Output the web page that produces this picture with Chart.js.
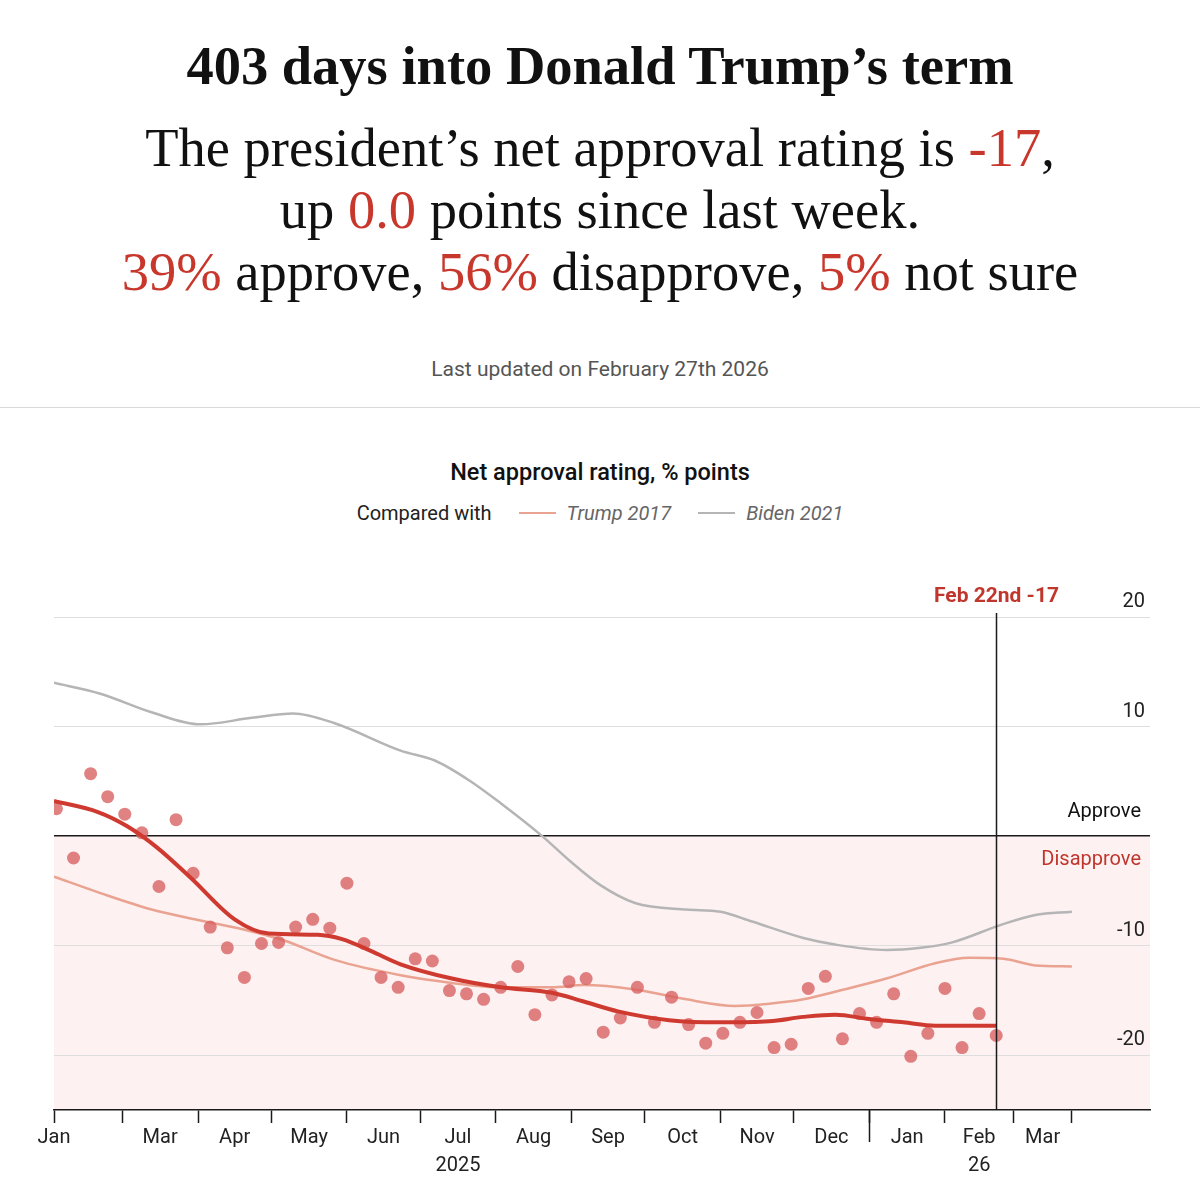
<!DOCTYPE html>
<html>
<head>
<meta charset="utf-8">
<script src="https://cdn.jsdelivr.net/npm/chart.js@4.4.1/dist/chart.umd.min.js"></script>
<style>
  html, body { margin: 0; padding: 0; background: #fff; }
  body { width: 1200px; height: 1200px; position: relative; overflow: hidden; }
  .abs { position: absolute; left: 0; width: 1200px; text-align: center; }
  .serif { font-family: "Liberation Serif", "DejaVu Serif", serif; color: #111; }
  #title { top: 35px; font-size: 54.5px; line-height: 62px; font-weight: bold; }
  #sub { top: 117px; font-size: 54.5px; line-height: 62px; }
  .red { color: #c8372c; }
  #updated { top: 355px; font-family: Roboto, sans-serif; font-size: 21px; line-height: 28px; color: #555; }
  #sep { top: 407px; height: 1px; background: #d9d9d9; }
  #ctitle { top: 458px; font-family: Roboto, sans-serif; font-size: 23.5px; line-height: 28px; font-weight: 500; color: #111; }
  #legend { top: 499px; font-family: Roboto, sans-serif; font-size: 20px; line-height: 28px; color: #222;
            display: flex; justify-content: center; align-items: center; }
  .sw { display: inline-block; width: 37px; height: 2.5px; margin-left: 27px; margin-right: 11px; }
  .lg { font-style: italic; color: #666; }
  #wrap { position: absolute; left: 0; top: 540px; width: 1200px; height: 660px; }
</style>
</head>
<body>
<div id="title" class="abs serif">403 days into Donald Trump’s term</div>
<div id="sub" class="abs serif">The president’s net approval rating is <span class="red">-17</span>,<br>up <span class="red">0.0</span> points since last week.<br><span class="red">39%</span> approve, <span class="red">56%</span> disapprove, <span class="red">5%</span> not sure</div>
<div id="updated" class="abs">Last updated on February 27th 2026</div>
<div id="sep" class="abs"></div>
<div id="ctitle" class="abs">Net approval rating, % points</div>
<div id="legend" class="abs"><span>Compared with</span><span class="sw" style="background:#eba391"></span><span class="lg">Trump 2017</span><span class="sw" style="background:#b5b5b5"></span><span class="lg">Biden 2021</span></div>
<div id="wrap"><canvas id="c" width="1200" height="660"></canvas></div>
<script>
// x values are days counted from the start of the axis
const pollDays = [1,8,15,22,29,36,43,50,57,64,71,78,85,92,99,106,113,120,127,134,141,148,155,162,169,176,183,190,197,204,211,218,225,232,239,246,253,260,267,274,281,288,295,302,309,316,323,330,337,344,351,358,365,372,379,386];
const pollNet = [2.5,-2.0,5.7,3.6,2.0,0.3,-4.6,1.5,-3.4,-8.3,-10.2,-12.9,-9.8,-9.7,-8.3,-7.6,-8.4,-4.3,-9.8,-12.9,-13.8,-11.2,-11.4,-14.1,-14.4,-14.9,-13.8,-11.9,-16.3,-14.5,-13.3,-13.0,-17.9,-16.6,-13.8,-17.0,-14.7,-17.2,-18.9,-18.0,-17.0,-16.1,-19.3,-19.0,-13.9,-12.8,-18.5,-16.2,-17.0,-14.4,-20.1,-18.0,-13.9,-19.3,-16.2,-18.2];

const trendDays = [0,18,30,42,56,74,88,108,118,130,142,163,183,204,217,231,252,273,293,307,320,334,348,361,386];
const trendNet = [3.2,2.2,0.9,-1.0,-3.8,-7.6,-8.9,-9.0,-9.4,-10.5,-11.7,-13.0,-13.8,-14.3,-15.1,-16.0,-16.8,-17.0,-16.9,-16.5,-16.3,-16.7,-17.0,-17.3,-17.3];

const trump2017Days = [0,19,40,60,81,94,115,142,163,183,204,217,238,259,279,293,307,320,341,361,375,389,402,417];
const trump2017Net = [-3.7,-5.2,-6.7,-7.7,-8.7,-9.5,-11.3,-12.7,-13.4,-13.8,-13.8,-13.6,-14.0,-14.9,-15.5,-15.3,-14.9,-14.2,-13.0,-11.6,-11.1,-11.2,-11.8,-11.9];

const bidenDays = [0,19,40,60,81,98,115,142,156,170,183,200,211,224,238,259,273,286,307,320,341,355,368,388,402,417];
const bidenNet = [14.0,13.0,11.3,10.2,10.8,11.2,10.3,7.8,6.9,5.1,3.0,0.0,-2.2,-4.5,-6.1,-6.7,-6.9,-7.8,-9.3,-9.9,-10.4,-10.2,-9.7,-8.1,-7.2,-6.9];

// month boundaries (tick marks) and month label positions
const monthBoundaries = [0,28,59,89,120,150,181,212,242,273,303,334,365,393,417];
const monthLabelDays = [0,43.5,74,104.5,135,165.5,196.5,227,257.5,288,318.5,349.5,379,405];
const monthLabels = ['Jan','Mar','Apr','May','Jun',['Jul','2025'],'Aug','Sep','Oct','Nov','Dec','Jan',['Feb','26'],'Mar'];
const yearBoundaryDay = 334;

const yTicks = [-20,-10,0,10,20];
const latestDay = 386;
const latestLabel = 'Feb 22nd -17';

const toXY = (xs, ys) => xs.map((x, i) => ({x: x, y: ys[i]}));

const xTickValues = Array.from(new Set(monthBoundaries.concat(monthLabelDays))).sort((a, b) => a - b);

const decor = {
  id: 'decor',
  beforeDraw(chart) {
    const {ctx, chartArea: a, scales: {y}} = chart;
    ctx.save();
    ctx.fillStyle = '#fdf1f2';
    const y0 = y.getPixelForValue(0);
    ctx.fillRect(a.left, y0, a.right - a.left, a.bottom - y0);
    ctx.restore();
  },
  afterDraw(chart) {
    const {ctx, chartArea: a, scales: {x, y}} = chart;
    ctx.save();
    // latest-date marker
    const lx = Math.round(x.getPixelForValue(latestDay)) + 0.5;
    ctx.strokeStyle = '#1a1a1a';
    ctx.lineWidth = 1.5;
    ctx.beginPath();
    ctx.moveTo(lx, a.top - 4);
    ctx.lineTo(lx, a.bottom);
    ctx.stroke();
    ctx.font = 'bold 21px Roboto, sans-serif';
    ctx.fillStyle = '#c0362c';
    ctx.textAlign = 'center';
    ctx.textBaseline = 'middle';
    ctx.fillText(latestLabel, lx, a.top - 20);
    // longer tick at the year boundary
    const yx = Math.round(x.getPixelForValue(yearBoundaryDay)) + 0.5;
    ctx.beginPath();
    ctx.moveTo(yx, a.bottom);
    ctx.lineTo(yx, a.bottom + 32);
    ctx.stroke();
    // approve / disapprove labels
    const y0 = y.getPixelForValue(0);
    ctx.textAlign = 'right';
    ctx.font = '20px Roboto, sans-serif';
    ctx.fillStyle = '#111';
    ctx.fillText('Approve', a.right - 9, y0 - 24);
    ctx.fillStyle = '#c0362c';
    ctx.fillText('Disapprove', a.right - 9, y0 + 24);
    ctx.restore();
  }
};

new Chart(document.getElementById('c'), {
  type: 'line',
  data: {
    datasets: [
      { label: 'Trump 2025 trend', data: toXY(trendDays, trendNet), borderColor: '#cf3a30', borderWidth: 4,
        pointRadius: 0, cubicInterpolationMode: 'monotone', order: 0 },
      { type: 'scatter', label: 'Polls', data: toXY(pollDays, pollNet), backgroundColor: 'rgba(215,95,95,0.78)',
        borderWidth: 0, pointRadius: 6.5, showLine: false, order: 1 },
      { label: 'Trump 2017', data: toXY(trump2017Days, trump2017Net), borderColor: '#eba391', borderWidth: 2.5,
        pointRadius: 0, cubicInterpolationMode: 'monotone', order: 2 },
      { label: 'Biden 2021', data: toXY(bidenDays, bidenNet), borderColor: '#b5b5b5', borderWidth: 2.5,
        pointRadius: 0, cubicInterpolationMode: 'monotone', order: 3 }
    ]
  },
  options: {
    responsive: false,
    animation: false,
    devicePixelRatio: 1,
    layout: { padding: { left: 54, top: 77, right: 0, bottom: 0 } },
    plugins: { legend: { display: false }, tooltip: { enabled: false } },
    scales: {
      x: {
        type: 'linear', min: 0, max: 449,
        afterBuildTicks: s => { s.ticks = xTickValues.map(v => ({value: v})); },
        afterFit: s => { s.height = 90; },
        border: { display: true, color: '#1a1a1a', width: 1.5 },
        grid: {
          drawOnChartArea: false, drawTicks: true, tickLength: 13, tickWidth: 1.5,
          tickColor: c => monthBoundaries.includes(c.tick.value) ? '#1a1a1a' : 'rgba(0,0,0,0)'
        },
        ticks: {
          autoSkip: false, maxRotation: 0, minRotation: 0, padding: 1,
          font: { family: 'Roboto', size: 20, lineHeight: 1.4 }, color: '#222',
          callback: v => { const i = monthLabelDays.indexOf(v); return i >= 0 ? monthLabels[i] : ''; }
        }
      },
      y: {
        position: 'right', min: -25, max: 20,
        afterBuildTicks: s => { s.ticks = yTicks.map(v => ({value: v})); },
        afterFit: s => { s.width = 50; },
        border: { display: false },
        grid: {
          drawTicks: false,
          color: c => c.tick.value === 0 ? '#1a1a1a' : '#dedede',
          lineWidth: c => c.tick.value === 0 ? 1.5 : 1
        },
        ticks: {
          mirror: true, crossAlign: 'near', padding: -5, labelOffset: -15,
          font: { family: 'Roboto', size: 20 }, color: '#222',
          callback: v => v === 0 ? '' : String(v)
        }
      }
    }
  },
  plugins: [decor]
});
</script>
</body>
</html>
